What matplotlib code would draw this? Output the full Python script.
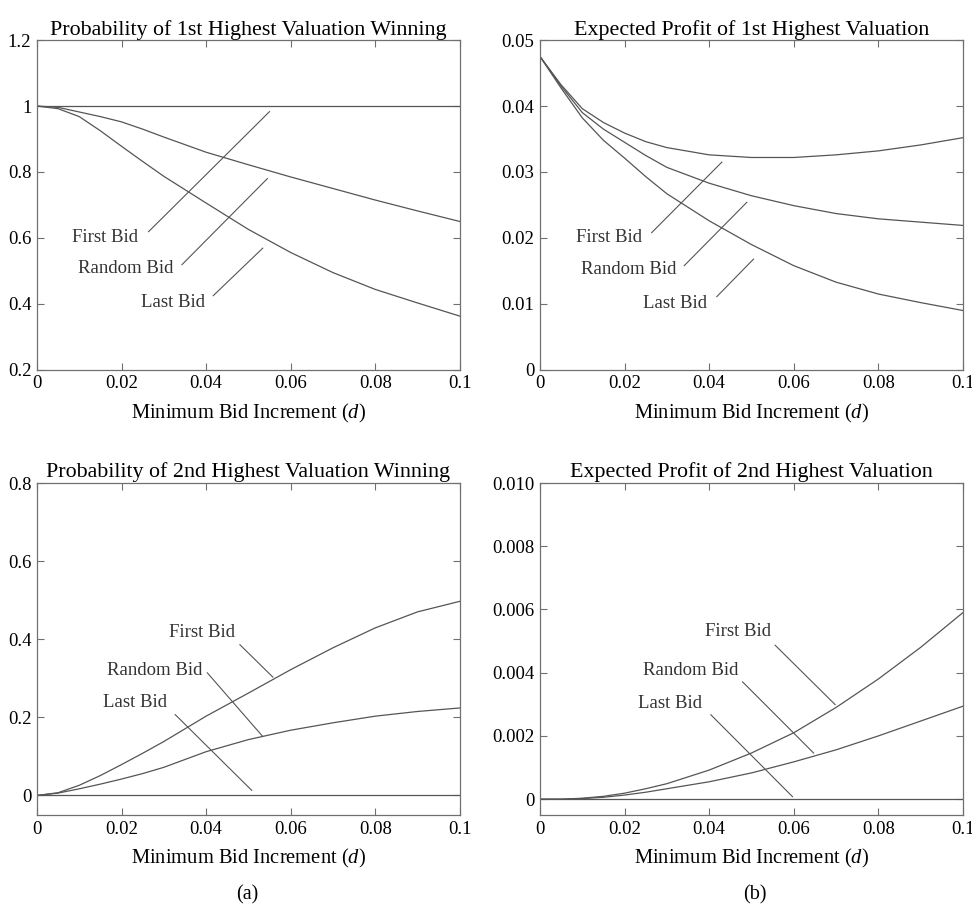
"""
Four-panel figure: win probability and expected profit of the 1st / 2nd
highest valuation vs. minimum bid increment d.
"""
import matplotlib
matplotlib.use("Agg")
import matplotlib.pyplot as plt
from matplotlib.ticker import FixedLocator, FuncFormatter

plt.rcParams["font.family"] = ["Liberation Serif", "DejaVu Serif"]
plt.rcParams["mathtext.fontset"] = "custom"
plt.rcParams["mathtext.rm"] = "Liberation Serif"
plt.rcParams["mathtext.it"] = "Liberation Serif:italic"

LINE = "#555555"
SPINE = "#707070"

# minimum bid increment grid
d = [0.0, 0.005, 0.01, 0.015, 0.02, 0.025, 0.03, 0.04, 0.05, 0.06, 0.07, 0.08, 0.09, 0.1]

# (top-left) probability of 1st highest valuation winning
p1_first = [1.0] * len(d)
p1_random = [1.0, 0.996, 0.982, 0.968, 0.952, 0.930, 0.906, 0.860, 0.822, 0.785, 0.750, 0.715, 0.682, 0.650]
p1_last = [1.0, 0.992, 0.968, 0.925, 0.878, 0.832, 0.787, 0.706, 0.626, 0.556, 0.495, 0.444, 0.403, 0.363]

# (top-right) expected profit of 1st highest valuation
e1_first = [0.0475, 0.0432, 0.0396, 0.0375, 0.0359, 0.0346, 0.0337, 0.0326, 0.0322, 0.0322, 0.0326, 0.0332, 0.0341, 0.0352]
e1_random = [0.0475, 0.0430, 0.0390, 0.0365, 0.0345, 0.0325, 0.0307, 0.0283, 0.0264, 0.0249, 0.0237, 0.0229, 0.0224, 0.0219]
e1_last = [0.0475, 0.0427, 0.0382, 0.0348, 0.0321, 0.0293, 0.0267, 0.0226, 0.0190, 0.0158, 0.0133, 0.0115, 0.0102, 0.0090]

# (bottom-left) probability of 2nd highest valuation winning
p2_first = [0.0, 0.007, 0.026, 0.051, 0.079, 0.108, 0.138, 0.203, 0.262, 0.322, 0.378, 0.429, 0.470, 0.497]
p2_random = [0.0, 0.006, 0.017, 0.029, 0.042, 0.056, 0.072, 0.112, 0.143, 0.167, 0.186, 0.203, 0.215, 0.224]
p2_last = [0.0] * len(d)

# (bottom-right) expected profit of 2nd highest valuation
e2_first = [0.0, 0.0, 0.00003, 0.00009, 0.00019, 0.00033, 0.00049, 0.00092, 0.00146, 0.00210, 0.00290, 0.00380, 0.00480, 0.00590]
e2_random = [0.0, 0.0, 0.00002, 0.00006, 0.00013, 0.00022, 0.00033, 0.00055, 0.00083, 0.00118, 0.00156, 0.00200, 0.00247, 0.00294]
e2_last = [0.0] * len(d)

labels = ["First Bid", "Random Bid", "Last Bid"]

panels = [
    dict(pos=[0.038, 0.594, 0.435, 0.362],
         title="Probability of 1st Highest Valuation Winning",
         series=(p1_first, p1_random, p1_last),
         ylim=(0.2, 1.2), yticks=[0.2, 0.4, 0.6, 0.8, 1.0, 1.2], fmt3=False,
         # (text x, text y, line start, line end) in data coords
         notes=[(0.024, 0.602, (0.0264, 0.619), (0.055, 0.983)),
                (0.0323, 0.506, (0.0343, 0.519), (0.0545, 0.780)),
                (0.0398, 0.405, (0.0417, 0.425), (0.0534, 0.569))]),
    dict(pos=[0.5556, 0.594, 0.435, 0.362],
         title="Expected Profit of 1st Highest Valuation",
         series=(e1_first, e1_random, e1_last),
         ylim=(0.0, 0.05), yticks=[0, 0.01, 0.02, 0.03, 0.04, 0.05], fmt3=False,
         notes=[(0.024, 0.0200, (0.0264, 0.0208), (0.0430, 0.0315)),
                (0.0323, 0.0152, (0.0341, 0.0158), (0.0489, 0.0254)),
                (0.0396, 0.0101, (0.0418, 0.0111), (0.0505, 0.0168))]),
    dict(pos=[0.038, 0.1054, 0.435, 0.3644],
         title="Probability of 2nd Highest Valuation Winning",
         series=(p2_first, p2_random, p2_last),
         ylim=(-0.05, 0.8), yticks=[0, 0.2, 0.4, 0.6, 0.8], fmt3=False,
         notes=[(0.0469, 0.418, (0.0480, 0.386), (0.0558, 0.303)),
                (0.0392, 0.320, (0.0403, 0.314), (0.0534, 0.151)),
                (0.0307, 0.237, (0.0327, 0.207), (0.0508, 0.013))]),
    dict(pos=[0.5556, 0.1054, 0.435, 0.3644],
         title="Expected Profit of 2nd Highest Valuation",
         series=(e2_first, e2_random, e2_last),
         ylim=(-0.0005, 0.010), yticks=[0, 0.002, 0.004, 0.006, 0.008, 0.010], fmt3=True,
         notes=[(0.0546, 0.00529, (0.0556, 0.00487), (0.0698, 0.00299)),
                (0.0469, 0.00408, (0.0479, 0.00371), (0.0647, 0.00146)),
                (0.0384, 0.00304, (0.0404, 0.00267), (0.0597, 0.00008))]),
]


def fmt_g(v, _):
    return f"{v:g}"


def fmt_3f(v, _):
    return "0" if abs(v) < 1e-12 else f"{v:.3f}"


fig = plt.figure(figsize=(9.72, 9.11), dpi=100)

for p in panels:
    ax = fig.add_axes(p["pos"])
    for ys in p["series"]:
        ax.plot(d, ys, color=LINE, lw=0.9)

    ax.set_xlim(0, 0.1)
    ax.set_ylim(*p["ylim"])
    ax.xaxis.set_major_locator(FixedLocator([0, 0.02, 0.04, 0.06, 0.08, 0.1]))
    ax.yaxis.set_major_locator(FixedLocator(p["yticks"]))
    ax.xaxis.set_major_formatter(FuncFormatter(fmt_g))
    ax.yaxis.set_major_formatter(FuncFormatter(fmt_3f if p["fmt3"] else fmt_g))
    ax.tick_params(direction="in", top=True, right=True, length=5, width=0.8,
                   color=SPINE, labelsize=13.5, pad=4)
    for s in ax.spines.values():
        s.set_color(SPINE)
        s.set_linewidth(0.9)

    ax.set_title(p["title"], fontsize=15.8, pad=4)
    ax.set_xlabel(r"Minimum Bid Increment $\mathit{(d)}$", fontsize=14.8, labelpad=7)

    for lab, (tx, ty, a, b) in zip(labels, p["notes"]):
        ax.text(tx, ty, lab, fontsize=13.5, color="#333333", ha="right", va="center")
        ax.plot([a[0], b[0]], [a[1], b[1]], color=LINE, lw=0.8)

fig.text(0.2546, 0.0176, "(a)", fontsize=14.5, ha="center", va="center")
fig.text(0.7766, 0.0176, "(b)", fontsize=14.5, ha="center", va="center")

fig.savefig("out.png", dpi=100, facecolor="white")
